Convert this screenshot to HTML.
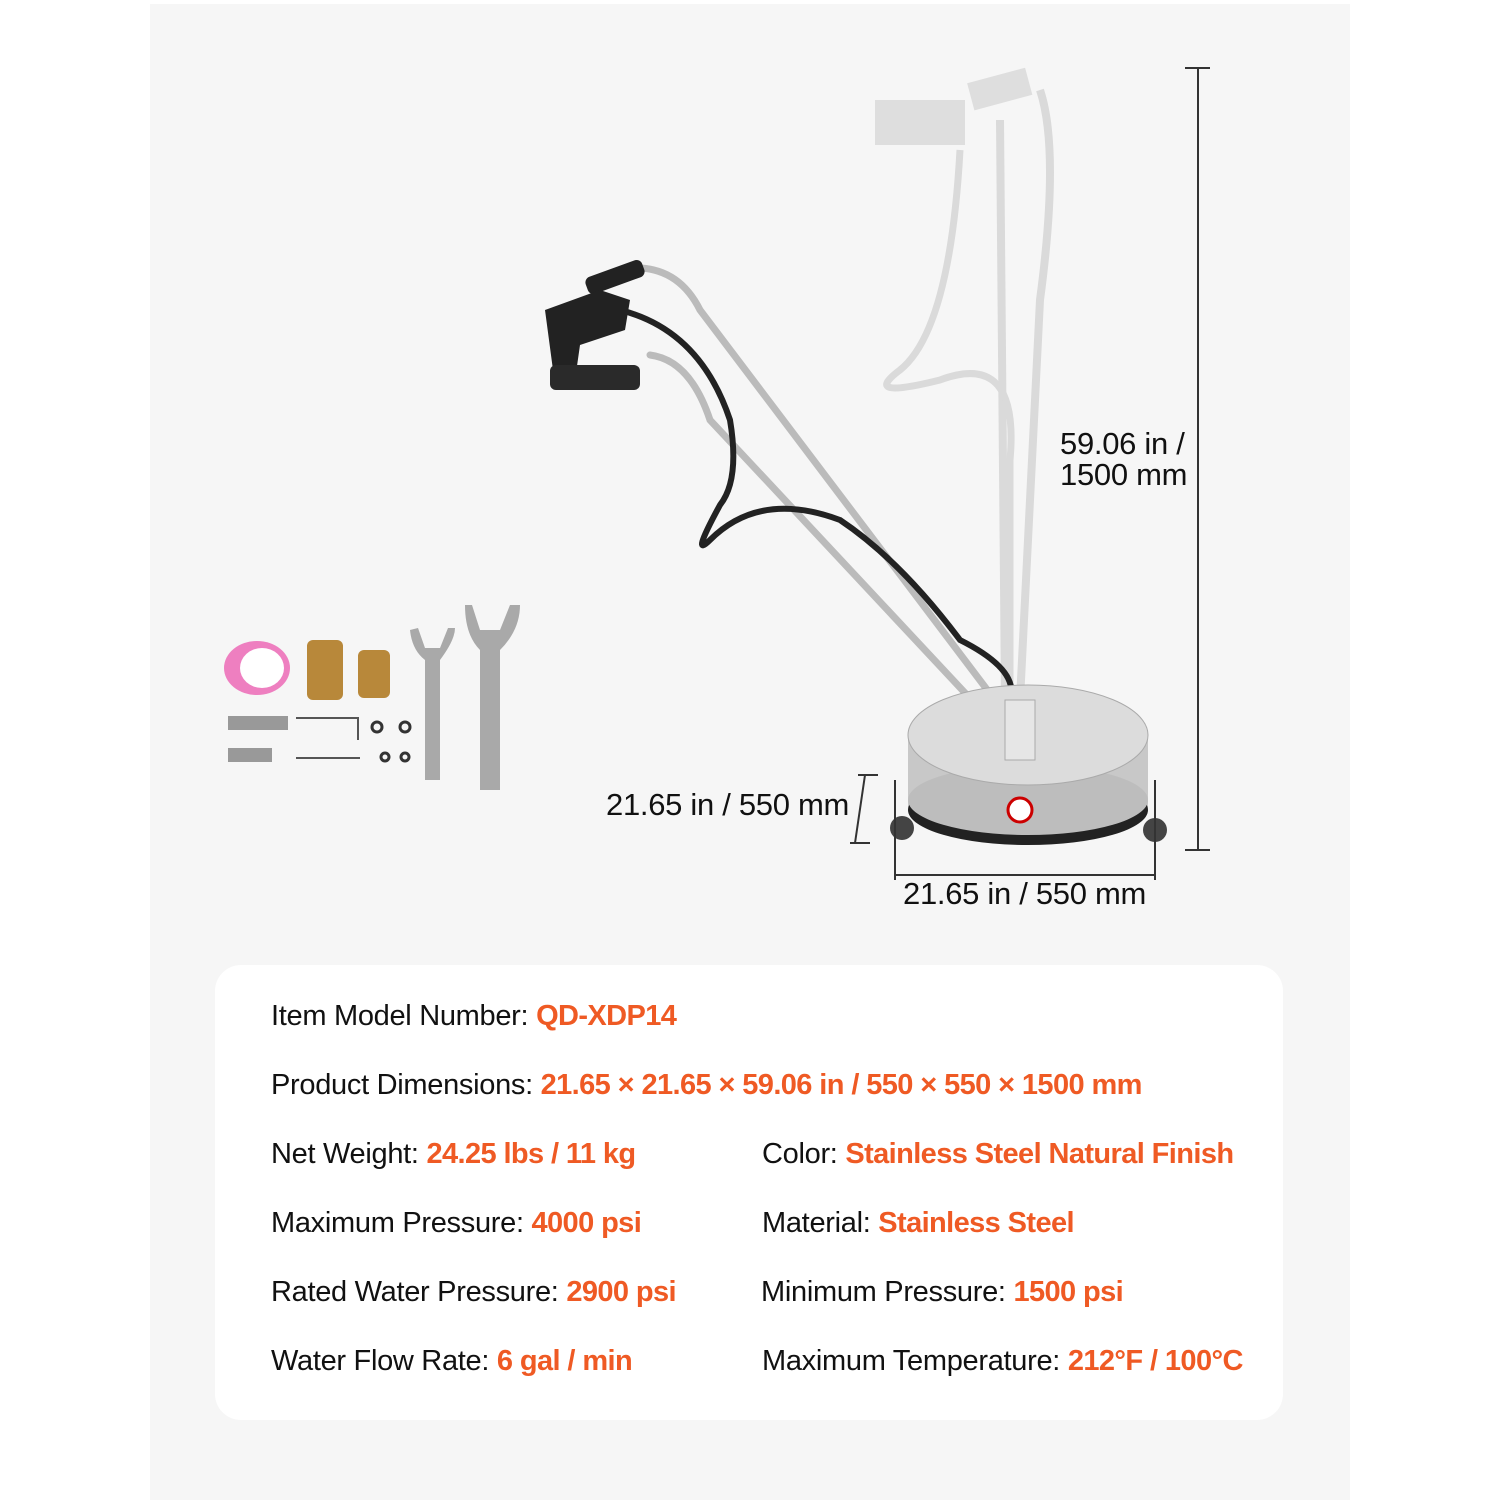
<!DOCTYPE html>
<html><head><meta charset="utf-8"><style>
body{margin:0;width:1500px;height:1500px;background:#fff;position:relative;overflow:hidden;font-family:"Liberation Sans",sans-serif;color:#111}
#panel{position:absolute;left:150px;top:4px;width:1200px;height:1496px;background:#f6f6f6}
#card{position:absolute;left:215px;top:965px;width:1068px;height:455px;background:#fff;border-radius:26px}
.t{position:absolute;font-size:29px;white-space:nowrap;letter-spacing:-0.3px}
.o{color:#ef5a24;font-weight:bold;letter-spacing:-0.6px}
.d{position:absolute;font-size:31px;white-space:nowrap;letter-spacing:-0.3px}
</style></head><body>
<div id="panel"></div>
<svg width="1500" height="1500" style="position:absolute;left:0;top:0">
<g opacity="0.25" stroke="#888" fill="none">
<path d="M1040 90 Q1060 150 1040 300 L1020 700" stroke-width="8"/>
<path d="M1000 120 Q1000 250 1005 700" stroke-width="8"/>
<path d="M960 150 Q950 330 900 370 Q860 400 940 380 Q1020 350 1010 460 L1010 700" stroke-width="7"/>
<rect x="875" y="100" width="90" height="45" fill="#999" stroke="none"/>
<rect x="970" y="75" width="60" height="28" fill="#999" stroke="none" transform="rotate(-15 1000 90)"/>
</g>
<g fill="none" stroke-linecap="round">
<path d="M640 268 Q680 270 700 310 L1010 720" stroke="#bbb" stroke-width="7"/>
<path d="M650 355 Q690 360 710 420 L995 725" stroke="#bbb" stroke-width="7"/>
<path d="M620 310 Q700 330 730 420 Q740 480 720 505 Q690 560 710 540 Q760 490 840 520 Q900 560 960 640 Q1020 670 1010 700" stroke="#222" stroke-width="6"/>
</g>
<rect x="585" y="268" width="60" height="18" rx="6" fill="#222" transform="rotate(-20 615 277)"/>
<path d="M545 310 L600 290 L630 300 L625 330 L580 345 L575 380 L555 385 Z" fill="#222"/>
<rect x="550" y="365" width="90" height="25" rx="6" fill="#2a2a2a"/>
<ellipse cx="1028" cy="775" rx="120" ry="60" fill="#b5b5b5"/>
<rect x="908" y="730" width="240" height="80" fill="#c8c8c8"/>
<ellipse cx="1028" cy="810" rx="120" ry="35" fill="#222"/>
<ellipse cx="1028" cy="800" rx="120" ry="35" fill="#bdbdbd"/>
<ellipse cx="1028" cy="735" rx="120" ry="50" fill="#dcdcdc" stroke="#aaa"/>
<rect x="1005" y="700" width="30" height="60" fill="#e6e6e6" stroke="#aaa"/>
<circle cx="1020" cy="810" r="12" fill="#fff" stroke="#c00" stroke-width="3"/>
<circle cx="902" cy="828" r="12" fill="#444"/><circle cx="1155" cy="830" r="12" fill="#444"/>
<ellipse cx="257" cy="668" rx="33" ry="27" fill="#ee7fc0"/><ellipse cx="262" cy="668" rx="22" ry="20" fill="#fff"/>
<rect x="307" y="640" width="36" height="60" rx="6" fill="#b8883a"/>
<rect x="358" y="650" width="32" height="48" rx="6" fill="#b8883a"/>
<rect x="228" y="716" width="60" height="14" fill="#999"/><rect x="228" y="748" width="44" height="14" fill="#999"/>
<path d="M296 718 L358 718 L358 740 M296 758 L360 758" stroke="#555" stroke-width="2" fill="none"/>
<g fill="none" stroke="#333" stroke-width="3"><circle cx="377" cy="727" r="5"/><circle cx="405" cy="727" r="5"/><circle cx="385" cy="757" r="4"/><circle cx="405" cy="757" r="4"/></g>
<path d="M425 660 L425 780 L440 780 L440 660 Q455 640 455 628 L448 628 L440 648 L425 648 L418 628 L410 630 Q412 650 425 660Z" fill="#a9a9a9"/>
<path d="M480 650 L480 790 L500 790 L500 650 Q520 630 520 605 L510 605 L500 630 L480 630 L472 605 L465 605 Q465 635 480 650Z" fill="#a9a9a9"/>
<g stroke="#333" stroke-width="2">
<line x1="1198" y1="68" x2="1198" y2="850"/><line x1="1185" y1="68" x2="1210" y2="68"/><line x1="1185" y1="850" x2="1210" y2="850"/>
<line x1="895" y1="875" x2="1155" y2="875"/><line x1="895" y1="780" x2="895" y2="880"/><line x1="1155" y1="780" x2="1155" y2="880"/>
<line x1="865" y1="775" x2="855" y2="843"/><line x1="858" y1="775" x2="878" y2="775"/><line x1="850" y1="843" x2="870" y2="843"/>
</g>
</svg>
<div class="d" style="left:1060px;top:428px;line-height:31px">59.06 in /<br>1500 mm</div>
<div class="d" style="left:606px;top:787px">21.65 in / 550 mm</div>
<div class="d" style="left:903px;top:876px">21.65 in / 550 mm</div>
<div id="card"></div>
<div class="t" style="left:271px;top:1000px">Item Model Number: <span class="o">QD-XDP14</span></div>
<div class="t" style="left:271px;top:1069px">Product Dimensions: <span class="o">21.65 × 21.65 × 59.06 in / 550 × 550 × 1500 mm</span></div>
<div class="t" style="left:271px;top:1138px">Net Weight: <span class="o">24.25 lbs / 11 kg</span></div>
<div class="t" style="left:271px;top:1207px">Maximum Pressure: <span class="o">4000 psi</span></div>
<div class="t" style="left:271px;top:1276px">Rated Water Pressure: <span class="o">2900 psi</span></div>
<div class="t" style="left:271px;top:1345px">Water Flow Rate: <span class="o">6 gal / min</span></div>
<div class="t" style="left:762px;top:1138px">Color: <span class="o">Stainless Steel Natural Finish</span></div>
<div class="t" style="left:762px;top:1207px">Material: <span class="o">Stainless Steel</span></div>
<div class="t" style="left:761px;top:1276px">Minimum Pressure: <span class="o">1500 psi</span></div>
<div class="t" style="left:762px;top:1345px">Maximum Temperature: <span class="o">212°F / 100°C</span></div>
</body></html>
